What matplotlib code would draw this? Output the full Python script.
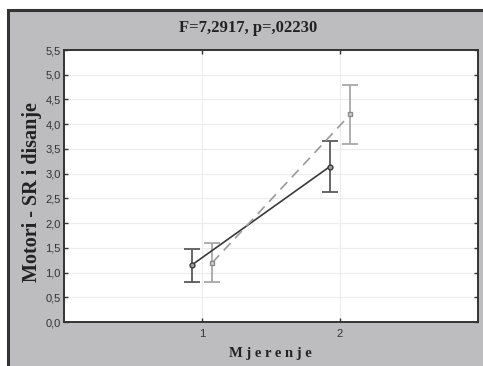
import numpy as np
import matplotlib
matplotlib.use("Agg")
import matplotlib.pyplot as plt
from matplotlib.patches import Rectangle

# measurement occasions
mjerenja = [1, 2]
tick_labels = ['1', '2']

# group 1 (solid line, circles)
g1_mean = [1.15, 3.14]
g1_low = [0.81, 2.63]
g1_high = [1.48, 3.66]

# group 2 (dashed line, squares)
g2_mean = [1.20, 4.20]
g2_low = [0.80, 3.60]
g2_high = [1.60, 4.79]

bg = '#bdbdc0'

fig = plt.figure(figsize=(4.83, 3.66), dpi=100)
fig.patch.set_facecolor('white')
# gray panel with dark frame
fig.patches.append(Rectangle((8 / 483, -0.1), 1.2, 1 - 10 / 366 + 0.1,
                             transform=fig.transFigure, facecolor=bg,
                             edgecolor='#333333', linewidth=2.2, zorder=-5))

ax = fig.add_axes([64 / 483, 1 - 322 / 366, (478 - 64) / 483, (322 - 50) / 366])
ax.set_zorder(2)
ax.set_facecolor('white')

x = np.array(mjerenja, dtype=float)
off = 0.075

m1 = np.array(g1_mean)
ax.errorbar(x - off, m1, yerr=[m1 - np.array(g1_low), np.array(g1_high) - m1],
            fmt='none', ecolor='#5a5a5a', elinewidth=1.3, capsize=5.5, capthick=1.3, zorder=3)
ax.plot(x - off, m1, color='#3a3a3a', linewidth=1.2, marker='o', markersize=3.5,
        markerfacecolor='#a0a0a0', markeredgecolor='#3a3a3a', zorder=4)

m2 = np.array(g2_mean)
ax.errorbar(x + off, m2, yerr=[m2 - np.array(g2_low), np.array(g2_high) - m2],
            fmt='none', ecolor='#a8a8a8', elinewidth=1.3, capsize=5.5, capthick=1.3, zorder=3)
ax.plot(x + off, m2, color='#9a9a9a', linewidth=1.2, linestyle=(0, (6, 4)),
        marker='s', markersize=3.5, markerfacecolor='#d0d0d0', markeredgecolor='#8a8a8a', zorder=4)

ax.set_xlim(0, 3)
ax.set_ylim(0, 5.5)
ax.set_xticks(mjerenja)
ax.set_xticklabels(tick_labels)
yt = np.arange(0, 5.51, 0.5)
ax.set_yticks(yt)
ax.set_yticklabels([f'{v:.1f}'.replace('.', ',') for v in yt])
ax.grid(True, color='#ececec', linewidth=0.8)
ax.set_axisbelow(True)
ax.tick_params(direction='in', top=True, right=True, length=3, width=1,
               labelsize=8, labelcolor='#333333', color='#333333')
ax.tick_params(axis='y', pad=2.5)
ax.tick_params(axis='x', pad=5)
for lab in ax.get_xticklabels() + ax.get_yticklabels():
    lab.set_family('Liberation Sans')
for s in ax.spines.values():
    s.set_color('#333333')
    s.set_linewidth(1.4)

fig.text(248 / 483, 1 - 28 / 366, 'F=7,2917, p=,02230', ha='center', va='center',
         family='Liberation Serif', fontweight='bold', fontsize=12, color='#222222')
fig.text(32 / 483, 1 - 192 / 366, 'Motori - SR i disanje', ha='center', va='center',
         rotation=90, family='Liberation Serif', fontweight='bold', fontsize=14.5,
         color='#222222')
fig.text(270 / 483, 1 - 354 / 366, 'M j e r e n j e', ha='center', va='center',
         family='Liberation Serif', fontweight='bold', fontsize=10.5, color='#222222')

fig.savefig('out.png', dpi=100)
